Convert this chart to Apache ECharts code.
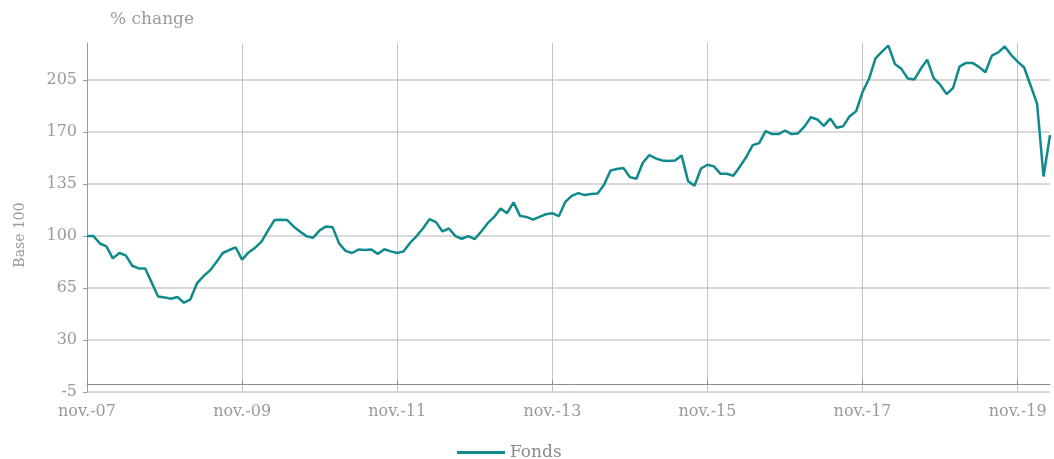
<!DOCTYPE html>
<html>
<head>
<meta charset="utf-8">
<script src="https://cdn.jsdelivr.net/npm/echarts@6/dist/echarts.min.js"></script>
<style>
  html, body { margin: 0; padding: 0; background: #fff; }
  #chart { width: 1054px; height: 459px; }
</style>
</head>
<body>
<div id="chart"></div>
<script>
// Mois (nov. 2007 -> avr. 2020), libellés du type "nov.-07"
const monthNames = ["janv.", "févr.", "mars", "avr.", "mai", "juin", "juil.", "août", "sept.", "oct.", "nov.", "déc."];
const startYear = 2007;
const startMonth = 10; // novembre
const monthCount = 150;

const categories = [];
for (let i = 0; i < monthCount; i++) {
  const m = (startMonth + i) % 12;
  const y = startYear + Math.floor((startMonth + i) / 12);
  categories.push(monthNames[m] + "-" + String(y).slice(2));
}

// Fonds, base 100
const fonds = [
  100, 100, 95, 93, 85, 88.6, 87, 80, 78.2, 78.2,
  68.8, 59.3, 58.7, 57.8, 59, 55.1, 57.4, 68.1, 72.9, 76.7,
  82.3, 88.6, 90.6, 92.4, 84.1, 89, 92.1, 96.2, 103.6, 110.8,
  111, 110.8, 106.3, 102.9, 99.8, 98.9, 103.8, 106.5, 106, 95.1,
  90, 88.6, 90.9, 90.6, 90.9, 88, 91.1, 89.7, 88.6, 89.7,
  95.5, 100, 105.3, 111.4, 109.4, 103.1, 105.1, 100, 98.2, 100,
  98, 103.1, 108.7, 112.9, 118.5, 115.4, 122.7, 113.6, 112.9, 111.1,
  112.9, 114.7, 115.4, 113.4, 123, 127.1, 128.9, 127.6, 128.3, 128.7,
  134.5, 144.2, 145.1, 145.8, 139.7, 138.6, 149.4, 154.5, 152.3, 150.9,
  150.5, 150.9, 154.3, 137, 133.9, 145.5, 148, 146.9, 142, 142,
  140.6, 146.7, 153.2, 161.2, 162.6, 170.7, 168.7, 168.7, 171.1, 168.7,
  169.1, 173.7, 180, 178.5, 174.2, 179.1, 172.9, 174, 180.7, 184,
  197, 205.9, 219.7, 224.2, 228.2, 215.9, 212.6, 206.1, 205.4, 212.6,
  218.8, 206.3, 201.9, 195.6, 199.7, 214.1, 216.6, 216.6, 213.9, 210.3,
  221.5, 223.7, 227.7, 221.9, 217.5, 213.5, 201.4, 189.2, 140.1, 168
];

const yMin = -5;
const yMax = 230;
const yStep = 35;

const font = "DejaVu Serif";
const textGrey = "#9a9a9a";

const chart = echarts.init(document.getElementById("chart"));

chart.setOption({
  animation: false,
  textStyle: { fontFamily: font },
  grid: { left: 87, right: 4, top: 43, bottom: 67 },
  graphic: [
    {
      type: "text",
      left: 110,
      top: 11,
      style: { text: "% change", font: "17px " + font, fill: textGrey }
    },
    {
      type: "text",
      x: 20,
      y: 235,
      rotation: Math.PI / 2,
      style: { text: "Base 100", font: "14px " + font, fill: textGrey, align: "center", verticalAlign: "middle" }
    }
  ],
  legend: {
    top: 444,
    left: 457,
    padding: 0,
    itemWidth: 48,
    itemHeight: 14,
    itemGap: 10,
    icon: "path://M0,6 L48,6 L48,9 L0,9 Z",
    textStyle: { color: "#8a8a8a", fontSize: 17, fontFamily: font },
    data: ["Fonds"]
  },
  xAxis: {
    type: "category",
    data: categories,
    boundaryGap: false,
    axisLine: { onZero: true, lineStyle: { color: "#8c8c8c", width: 1 } },
    axisTick: { show: true, interval: 23, length: 4, inside: true, lineStyle: { color: "#8c8c8c" } },
    axisLabel: { interval: 23, margin: 12, color: textGrey, fontSize: 16, fontFamily: font },
    splitLine: { show: true, interval: 23, lineStyle: { color: "#c4c4c4", width: 1 } }
  },
  yAxis: {
    type: "value",
    min: yMin,
    max: yMax,
    interval: yStep,
    axisLine: { show: true, lineStyle: { color: "#9a9a9a" } },
    axisTick: { show: true, length: 4, lineStyle: { color: "#9a9a9a" } },
    axisLabel: { showMaxLabel: false, margin: 10, color: textGrey, fontSize: 16, fontFamily: font },
    splitLine: { show: true, showMaxLine: false, lineStyle: { color: "#cccccc", width: 1.5 } }
  },
  series: [
    {
      name: "Fonds",
      type: "line",
      data: fonds,
      symbol: "none",
      lineStyle: { color: "#108a8c", width: 2.5 },
      itemStyle: { color: "#108a8c" }
    }
  ]
});
</script>
</body>
</html>
